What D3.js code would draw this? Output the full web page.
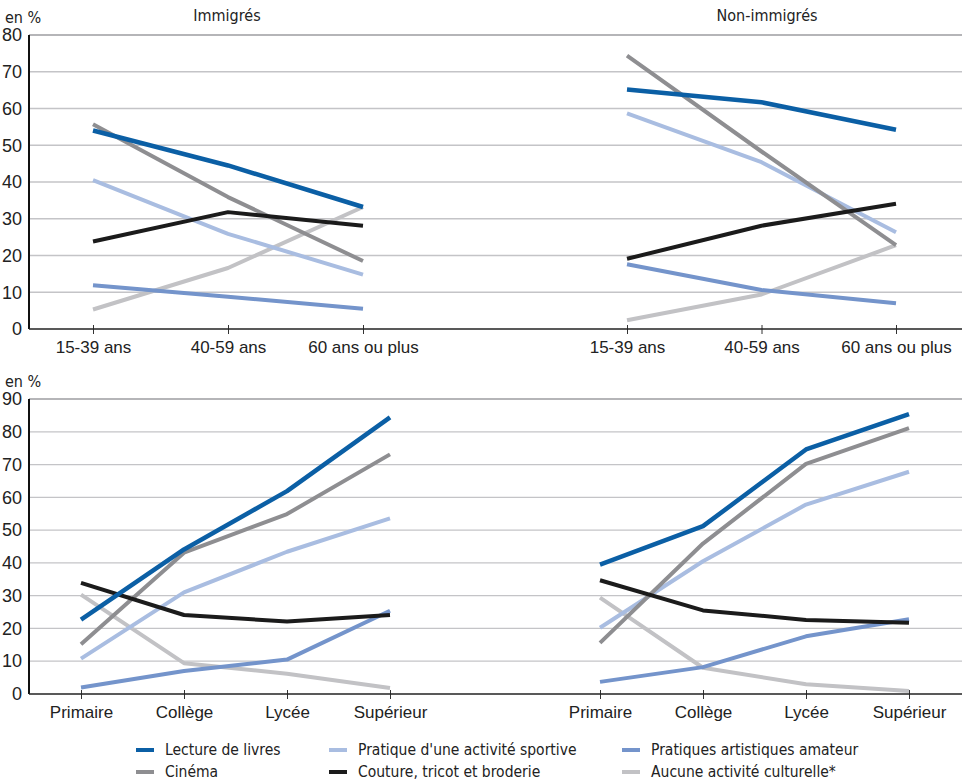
<!DOCTYPE html>
<html>
<head>
<meta charset="utf-8">
<script src="https://cdn.jsdelivr.net/npm/d3@7"></script>
<style>
  body { margin: 0; background: #fff; }
  svg { display: block; font-family: "Liberation Sans Narrow", "DejaVu Sans Condensed", "Liberation Sans", sans-serif; }
</style>
</head>
<body>
<div id="chart"></div>
<script>
const ages = ["15-39 ans", "40-59 ans", "60 ans ou plus"];
const diplomas = ["Primaire", "Collège", "Lycée", "Supérieur"];

const series = [
  "Lecture de livres",
  "Cinéma",
  "Pratique d'une activité sportive",
  "Couture, tricot et broderie",
  "Pratiques artistiques amateur",
  "Aucune activité culturelle*"
];
const colors = ["#0b5fa5", "#8e8e91", "#a9bde1", "#1b1b1b", "#7494cb", "#c2c2c5"];

// values in series order (one row per series)
const ageImmigres = [
  [54.0, 44.5, 33.2],
  [55.7, 35.9, 18.5],
  [40.5, 25.9, 14.8],
  [23.8, 31.8, 28.1],
  [11.9, 8.8, 5.5],
  [5.3, 16.6, 33.2]
];
const ageNonImmigres = [
  [65.2, 61.7, 54.2],
  [74.4, 48.3, 22.8],
  [58.7, 45.4, 26.3],
  [19.1, 28.1, 34.1],
  [17.6, 10.6, 7.0],
  [2.4, 9.4, 22.8]
];
const diplomeImmigres = [
  [22.7, 44.1, 61.9, 84.4],
  [15.2, 43.1, 54.9, 73.1],
  [10.8, 31.0, 43.4, 53.6],
  [33.9, 24.1, 22.1, 24.1],
  [2.0, 7.0, 10.5, 25.4],
  [30.3, 9.4, 6.2, 1.8]
];
const diplomeNonImmigres = [
  [39.5, 51.2, 74.6, 85.4],
  [15.6, 45.9, 70.2, 81.1],
  [20.2, 40.5, 57.8, 67.8],
  [34.7, 25.5, 22.6, 21.7],
  [3.7, 8.2, 17.6, 22.8],
  [29.4, 8.0, 3.0, 0.9]
];

const width = 962;
const height = 783;
const axisX = 29;
const drawOrder = [5, 4, 2, 1, 3, 0];

const svg = d3.select("#chart")
  .append("svg")
  .attr("width", width)
  .attr("height", height);

function drawRow(cfg) {
  const y = d3.scaleLinear().domain([0, cfg.max]).range(cfg.yRange);
  const g = svg.append("g");

  // gridlines
  const gridVals = d3.range(10, cfg.max + 1, 10);
  g.selectAll("line.grid")
    .data(gridVals)
    .enter()
    .append("line")
    .attr("x1", axisX)
    .attr("x2", width)
    .attr("y1", d => y(d))
    .attr("y2", d => y(d))
    .attr("stroke", d => d === cfg.max ? "#9d9da0" : "#c4c4c7")
    .attr("stroke-width", d => d === cfg.max ? 1.6 : 1.3);

  // y axis
  const yAxis = g.append("g")
    .attr("transform", `translate(${axisX},0)`)
    .call(d3.axisLeft(y).tickValues(d3.range(0, cfg.max + 1, 10)).tickSize(0).tickPadding(7));
  yAxis.select(".domain").remove();
  yAxis.selectAll("text")
    .attr("font-size", 18)
    .attr("fill", "#222")
    .attr("font-family", null);

  g.append("line")
    .attr("x1", axisX).attr("x2", axisX)
    .attr("y1", y(cfg.max)).attr("y2", y(0))
    .attr("stroke", "#111").attr("stroke-width", 2);

  g.append("text")
    .attr("x", 5)
    .attr("y", cfg.unitY)
    .attr("font-size", 16)
    .attr("fill", "#222")
    .text("en %");

  cfg.panels.forEach(p => {
    const x = d3.scalePoint().domain(cfg.cats).range(p.xRange);

    const xAxis = g.append("g")
      .attr("transform", `translate(0,${y(0)})`)
      .call(d3.axisBottom(x).tickSizeInner(5).tickSizeOuter(0).tickPadding(7));
    xAxis.select(".domain").remove();
    xAxis.selectAll(".tick line").attr("stroke", "#333").attr("y1", -4);
    xAxis.selectAll("text")
      .attr("font-size", 17)
      .attr("fill", "#222")
      .attr("font-family", null);

    if (p.title) {
      g.append("text")
        .attr("x", p.titleX)
        .attr("y", 21)
        .attr("text-anchor", "middle")
        .attr("font-size", 16)
        .attr("fill", "#222")
        .text(p.title);
    }

    const line = d3.line()
      .x((d, i) => x(cfg.cats[i]))
      .y(d => y(d));

    drawOrder.forEach(si => {
      g.append("path")
        .datum(p.values[si])
        .attr("d", line)
        .attr("fill", "none")
        .attr("stroke", colors[si])
        .attr("stroke-width", si === 0 ? 4.5 : 4)
        .attr("stroke-linejoin", "round");
    });
  });

  // x axis baseline
  g.append("line")
    .attr("x1", axisX).attr("x2", width)
    .attr("y1", y(0)).attr("y2", y(0))
    .attr("stroke", "#222").attr("stroke-width", 1.6);
}

drawRow({
  max: 80,
  yRange: [329, 35],
  unitY: 23,
  cats: ages,
  panels: [
    { values: ageImmigres, xRange: [93, 363], title: "Immigrés", titleX: 227 },
    { values: ageNonImmigres, xRange: [627, 896], title: "Non-immigrés", titleX: 767 }
  ]
});

drawRow({
  max: 90,
  yRange: [694, 399],
  unitY: 387,
  cats: diplomas,
  panels: [
    { values: diplomeImmigres, xRange: [81, 390] },
    { values: diplomeNonImmigres, xRange: [600, 909] }
  ]
});

// legend
const legendCols = [136, 329, 622];
const legendRows = [750, 772];
const legend = svg.append("g");
series.forEach((name, i) => {
  const cx = legendCols[Math.floor(i / 2)];
  const cy = legendRows[i % 2];
  legend.append("line")
    .attr("x1", cx).attr("x2", cx + 18)
    .attr("y1", cy).attr("y2", cy)
    .attr("stroke", colors[i])
    .attr("stroke-width", 4);
  legend.append("text")
    .attr("x", cx + 29)
    .attr("y", cy)
    .attr("dy", "0.35em")
    .attr("font-size", 15.5)
    .attr("fill", "#222")
    .text(name);
});
</script>
</body>
</html>
